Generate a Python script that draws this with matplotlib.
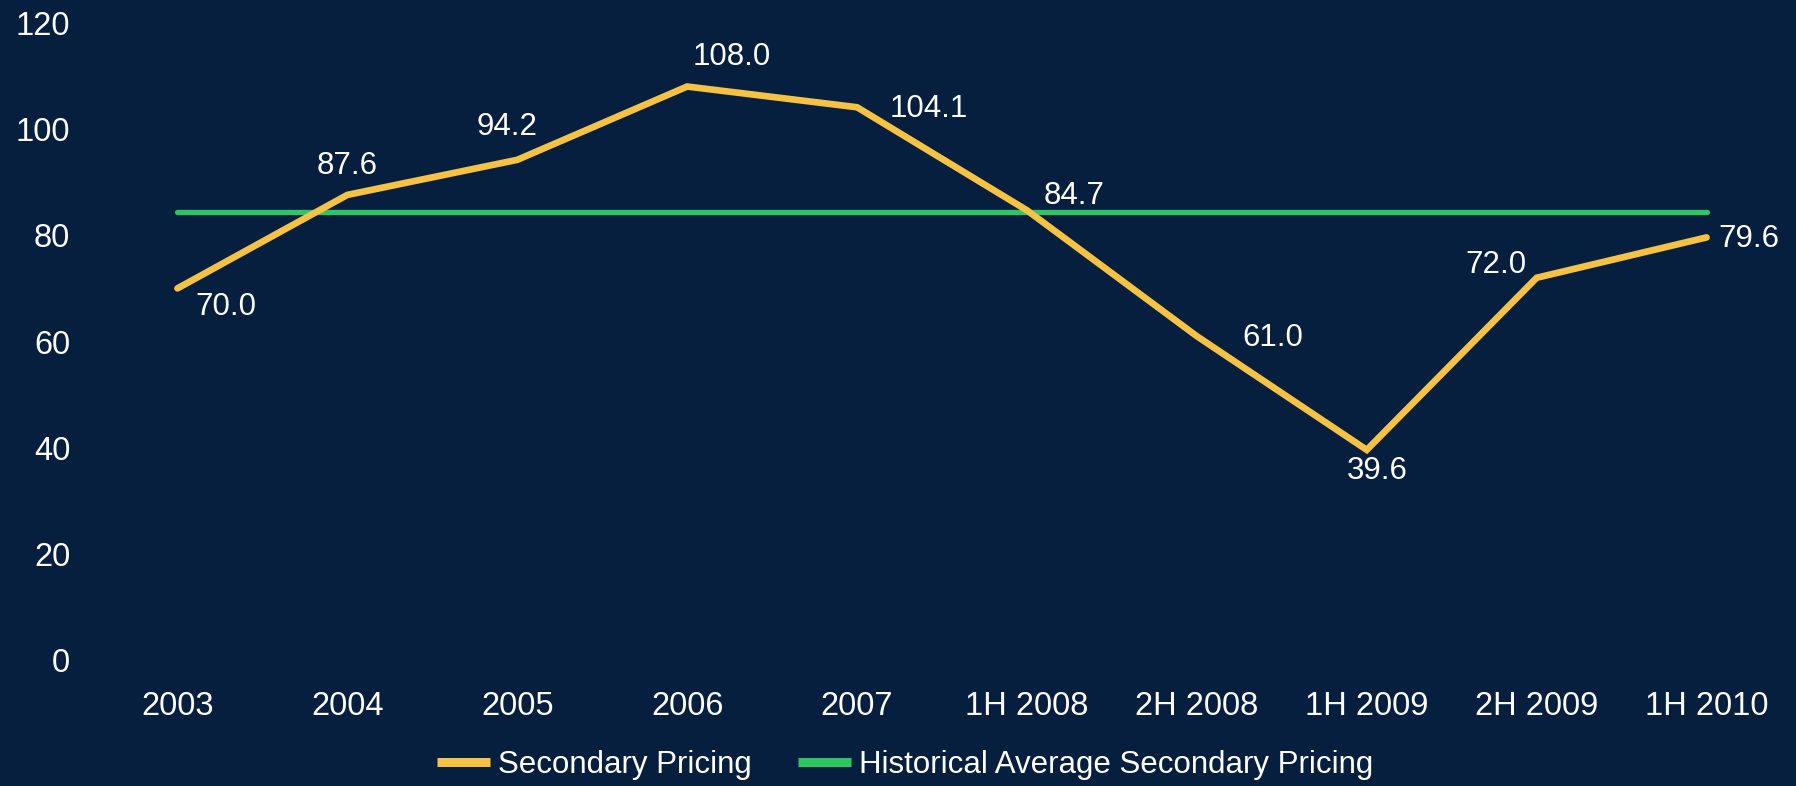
import matplotlib.pyplot as plt
from matplotlib import font_manager

periods = ["2003", "2004", "2005", "2006", "2007", "1H 2008", "2H 2008", "1H 2009", "2H 2009", "1H 2010"]
secondary = [70.0, 87.6, 94.2, 108.0, 104.1, 84.7, 61.0, 39.6, 72.0, 79.6]
hist_avg = [84.3] * len(periods)

# where each value label sits relative to its point (pixels)
label_offsets = [(48, -19), (0, 29), (-10, 33), (45, 30), (72, -2), (47, 14), (76, -2), (10, -21), (-41, 13), (42, -2)]

bg = "#061f3e"
yellow = "#f6c244"
green = "#2ec563"

plt.rcParams["font.family"] = ["Liberation Sans", "DejaVu Sans"]
installed = {f.name for f in font_manager.fontManager.ttflist}
if "Liberation Sans Narrow" in installed:
    leg_font = {"family": "Liberation Sans Narrow", "size": 26}
else:
    leg_font = {"family": "Liberation Sans", "size": 22.5}

fig = plt.figure(figsize=(17.96, 7.86), dpi=100, facecolor=bg)
ax = fig.add_axes([0.0515, 0.16, 0.946, 0.811])
ax.set_facecolor(bg)

x = range(len(periods))
ax.plot(x, secondary, color=yellow, lw=4.8, solid_capstyle="round", solid_joinstyle="miter",
        label="Secondary Pricing", zorder=3)
ax.plot(x, hist_avg, color=green, lw=3.8, solid_capstyle="round",
        label="Historical Average Secondary Pricing", zorder=2)

for xi, v, off in zip(x, secondary, label_offsets):
    ax.annotate(f"{v:.1f}", (xi, v), xytext=off, textcoords="offset pixels",
                ha="center", va="center", color="white", fontsize=22.5)

ax.set_xlim(-0.5, len(periods) - 0.5)
ax.set_ylim(0, 120)
ax.set_yticks(range(0, 121, 20))
ax.set_xticks(list(x))
ax.set_xticklabels(periods)
ax.tick_params(colors="white", labelsize=23.5, length=0)
ax.tick_params(axis="y", pad=16)
ax.tick_params(axis="x", pad=22.5)
for s in ax.spines.values():
    s.set_visible(False)

leg = fig.legend(loc="center", bbox_to_anchor=(0.504, 0.027), ncol=2, frameon=False,
                 handlelength=1.68, handletextpad=0.26, columnspacing=1.5, prop=leg_font)
for t in leg.get_texts():
    t.set_color("white")
for h in leg.legend_handles:
    h.set_linewidth(6.5)
    h.set_solid_capstyle("butt")

fig.savefig("out.png", dpi=100, facecolor=bg)
